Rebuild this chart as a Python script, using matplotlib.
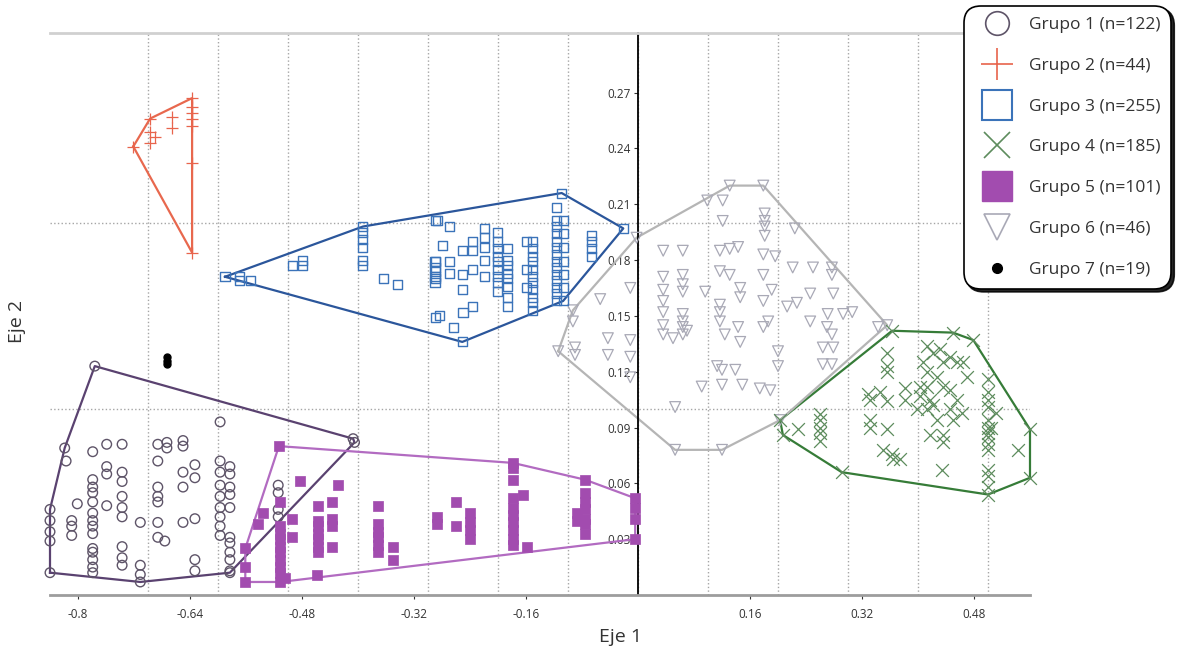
import numpy as np
import matplotlib.pyplot as plt
from matplotlib.lines import Line2D

plt.rcParams['font.family'] = ['Open Sans', 'DejaVu Sans']

# --- datos (Eje 1, Eje 2) ---
labels = ['Grupo 1 (n=122)', 'Grupo 2 (n=44)', 'Grupo 3 (n=255)', 'Grupo 4 (n=185)',
          'Grupo 5 (n=101)', 'Grupo 6 (n=46)', 'Grupo 7 (n=19)']

x_ticks = [-0.8, -0.64, -0.48, -0.32, -0.16, 0.16, 0.32, 0.48]
x_tick_labels = ['-0.8', '-0.64', '-0.48', '-0.32', '-0.16', '0.16', '0.32', '0.48']
y_ticks = [0.03, 0.06, 0.09, 0.12, 0.15, 0.18, 0.21, 0.24, 0.27]
y_tick_labels = ['0.03', '0.06', '0.09', '0.12', '0.15', '0.18', '0.21', '0.24', '0.27']

g1_x = [-0.776, -0.819, -0.817, -0.840, -0.840, -0.840, -0.840, -0.840, -0.809, -0.809, -0.809, -0.801,
        -0.779, -0.779, -0.779, -0.779, -0.779, -0.779, -0.779, -0.779, -0.779, -0.779, -0.779, -0.779,
        -0.779, -0.779,
        -0.759, -0.737, -0.759, -0.759, -0.759,
        -0.737, -0.737, -0.737, -0.737, -0.737, -0.737, -0.737, -0.737,
        -0.711, -0.711, -0.711, -0.711,
        -0.686, -0.686, -0.686, -0.686, -0.686, -0.686, -0.686,
        -0.673, -0.673, -0.676,
        -0.650, -0.650, -0.650, -0.650, -0.650,
        -0.633, -0.633, -0.633, -0.633, -0.633,
        -0.597, -0.597, -0.597, -0.597, -0.597, -0.597, -0.597, -0.597, -0.597,
        -0.583, -0.583, -0.583, -0.583, -0.583, -0.583, -0.583, -0.583, -0.583, -0.583, -0.583,
        -0.514, -0.514, -0.514, -0.514,
        -0.405, -0.407]
g1_y = [0.123, 0.079, 0.072, 0.046, 0.040, 0.034, 0.029, 0.012, 0.040, 0.037, 0.032, 0.049,
        0.077, 0.062, 0.058, 0.055, 0.050, 0.044, 0.040, 0.037, 0.033, 0.025, 0.023, 0.019,
        0.015, 0.012,
        0.081, 0.081, 0.069, 0.065, 0.048,
        0.066, 0.061, 0.053, 0.047, 0.042, 0.026, 0.020, 0.016,
        0.039, 0.016, 0.011, 0.007,
        0.081, 0.072, 0.058, 0.053, 0.050, 0.039, 0.031,
        0.082, 0.079, 0.029,
        0.083, 0.080, 0.066, 0.058, 0.039,
        0.070, 0.063, 0.041, 0.019, 0.013,
        0.093, 0.072, 0.066, 0.059, 0.053, 0.047, 0.042, 0.037, 0.032,
        0.069, 0.065, 0.058, 0.054, 0.047, 0.031, 0.028, 0.023, 0.019, 0.013, 0.012,
        0.059, 0.055, 0.046, 0.042,
        0.082, 0.084]

g2_x = [-0.721, -0.697, -0.697, -0.697, -0.690, -0.666, -0.666,
        -0.637, -0.637, -0.637, -0.637, -0.637, -0.637, -0.637]
g2_y = [0.241, 0.256, 0.249, 0.243, 0.246, 0.257, 0.251,
        0.267, 0.262, 0.259, 0.256, 0.252, 0.232, 0.184]

g3_x = [-0.590, -0.569, -0.569, -0.554, -0.493, -0.479, -0.479,
        -0.393, -0.393, -0.393, -0.393, -0.393, -0.393, -0.364, -0.344,
        -0.289, -0.289, -0.289, -0.289, -0.289, -0.286, -0.269, -0.279,
        -0.290, -0.290, -0.290, -0.290, -0.269, -0.269,
        -0.251, -0.251, -0.251, -0.236, -0.236, -0.236,
        -0.219, -0.219, -0.219, -0.219, -0.219,
        -0.201, -0.201, -0.201, -0.201, -0.201, -0.201, -0.201, -0.201, -0.201,
        -0.187, -0.187, -0.187, -0.187, -0.187, -0.187, -0.187, -0.187,
        -0.283, -0.264, -0.251, -0.250, -0.236,
        -0.151, -0.151, -0.151, -0.151, -0.151, -0.151, -0.151, -0.151, -0.151, -0.151, -0.151,
        -0.159, -0.159, -0.159,
        -0.116, -0.116, -0.116, -0.116, -0.116, -0.116, -0.116, -0.116, -0.116, -0.116, -0.116,
        -0.116, -0.116, -0.116,
        -0.107, -0.107, -0.107, -0.107, -0.107, -0.107, -0.107,
        -0.109, -0.066, -0.066, -0.066, -0.066, -0.021]
g3_y = [0.171, 0.171, 0.169, 0.169, 0.177, 0.180, 0.177,
        0.198, 0.195, 0.191, 0.187, 0.180, 0.177, 0.170, 0.167,
        0.201, 0.179, 0.174, 0.170, 0.149, 0.201, 0.198, 0.188,
        0.179, 0.176, 0.171, 0.168, 0.179, 0.173,
        0.185, 0.172, 0.164, 0.190, 0.185, 0.175,
        0.197, 0.192, 0.187, 0.180, 0.171,
        0.195, 0.190, 0.186, 0.182, 0.179, 0.175, 0.171, 0.168, 0.163,
        0.186, 0.180, 0.177, 0.173, 0.170, 0.166, 0.160, 0.155,
        0.150, 0.144, 0.136, 0.152, 0.155,
        0.190, 0.186, 0.182, 0.179, 0.175, 0.171, 0.168, 0.164, 0.160, 0.157, 0.153,
        0.190, 0.175, 0.165,
        0.208, 0.201, 0.198, 0.194, 0.190, 0.187, 0.183, 0.179, 0.176, 0.172, 0.169,
        0.165, 0.162, 0.158,
        0.201, 0.194, 0.187, 0.179, 0.172, 0.165, 0.158,
        0.216, 0.193, 0.190, 0.186, 0.182, 0.197]

g4_x = [0.203, 0.207, 0.229, 0.260, 0.260, 0.260, 0.260, 0.260, 0.291,
        0.329, 0.331, 0.331, 0.331, 0.356, 0.356, 0.356, 0.356, 0.356,
        0.350, 0.363, 0.374, 0.364, 0.346, 0.381, 0.381,
        0.413, 0.421, 0.431, 0.407, 0.403, 0.403, 0.399, 0.413, 0.417, 0.413,
        0.427, 0.436, 0.446, 0.456, 0.464, 0.470,
        0.436, 0.446, 0.456, 0.446, 0.463, 0.450, 0.421, 0.427, 0.413,
        0.417, 0.436, 0.436, 0.434,
        0.500, 0.500, 0.500, 0.500, 0.500, 0.500, 0.500, 0.500, 0.500, 0.500, 0.500, 0.500,
        0.500, 0.500,
        0.511, 0.504, 0.543, 0.363, 0.450, 0.479, 0.560, 0.560]
g4_y = [0.094, 0.086, 0.089, 0.097, 0.094, 0.090, 0.087, 0.083, 0.066,
        0.108, 0.105, 0.094, 0.090, 0.130, 0.123, 0.120, 0.104, 0.089,
        0.078, 0.076, 0.073, 0.073, 0.109, 0.111, 0.105,
        0.134, 0.130, 0.132, 0.125, 0.112, 0.107, 0.100, 0.112, 0.105, 0.120,
        0.117, 0.125, 0.128, 0.125, 0.125, 0.117,
        0.112, 0.110, 0.105, 0.100, 0.098, 0.094, 0.102, 0.094, 0.100,
        0.086, 0.086, 0.082, 0.067,
        0.116, 0.109, 0.105, 0.101, 0.094, 0.090, 0.087, 0.085, 0.081, 0.078, 0.067, 0.064,
        0.058, 0.054,
        0.098, 0.090, 0.078, 0.142, 0.141, 0.137, 0.089, 0.063]

g5_x = [-0.513, -0.483, -0.429, -0.457, -0.437,
        -0.457, -0.457, -0.457, -0.457, -0.457, -0.457,
        -0.437, -0.437, -0.437, -0.459,
        -0.511, -0.511, -0.511, -0.511, -0.511, -0.511, -0.511, -0.511, -0.511, -0.511,
        -0.494, -0.494, -0.536, -0.543, -0.561, -0.561, -0.561, -0.504,
        -0.371, -0.371, -0.371, -0.371, -0.371, -0.371, -0.350, -0.350,
        -0.287, -0.287, -0.260, -0.260, -0.240, -0.240, -0.240, -0.240,
        -0.179, -0.179, -0.179, -0.179, -0.179, -0.179, -0.179, -0.179, -0.179, -0.179,
        -0.164, -0.159,
        -0.076, -0.076, -0.076, -0.076, -0.076, -0.076, -0.076, -0.087, -0.087,
        -0.004, -0.004, -0.004, -0.004]
g5_y = [0.080, 0.061, 0.059, 0.048, 0.050,
        0.040, 0.037, 0.033, 0.030, 0.026, 0.023,
        0.041, 0.037, 0.026, 0.011,
        0.050, 0.037, 0.033, 0.030, 0.026, 0.023, 0.019, 0.015, 0.012, 0.007,
        0.041, 0.031, 0.044, 0.038, 0.025, 0.015, 0.007, 0.009,
        0.048, 0.038, 0.034, 0.031, 0.027, 0.023, 0.026, 0.019,
        0.042, 0.038, 0.050, 0.037, 0.044, 0.039, 0.035, 0.030,
        0.071, 0.068, 0.062, 0.052, 0.047, 0.043, 0.039, 0.035, 0.030, 0.027,
        0.054, 0.026,
        0.062, 0.055, 0.050, 0.046, 0.041, 0.038, 0.033, 0.044, 0.040,
        0.052, 0.047, 0.041, 0.030]

g6_x = [-0.114, -0.093, -0.093, -0.090, -0.090, -0.054, -0.043, -0.043,
        -0.011, -0.011, -0.011, -0.011, -0.002,
        0.036, 0.036, 0.036, 0.036, 0.036, 0.036, 0.036,
        0.064, 0.064, 0.064, 0.064, 0.064, 0.064, 0.064, 0.064,
        0.050, 0.070, 0.096, 0.053, 0.053,
        0.099, 0.121, 0.121, 0.117, 0.131, 0.143,
        0.117, 0.117, 0.117, 0.117, 0.131, 0.146, 0.146,
        0.124, 0.143, 0.146, 0.113, 0.120, 0.139, 0.091, 0.120, 0.149, 0.174, 0.189,
        0.131, 0.179, 0.181, 0.181, 0.181, 0.181, 0.179, 0.196,
        0.179, 0.179, 0.191, 0.179, 0.186, 0.200, 0.200,
        0.221, 0.250, 0.213, 0.227, 0.224, 0.246, 0.246,
        0.277, 0.277, 0.279, 0.271, 0.270, 0.277, 0.264, 0.279, 0.264, 0.277,
        0.293, 0.306, 0.343, 0.356, 0.203, 0.120]
g6_y = [0.131, 0.153, 0.147, 0.133, 0.129, 0.159, 0.138, 0.129,
        0.165, 0.137, 0.128, 0.117, 0.192,
        0.185, 0.171, 0.164, 0.158, 0.152, 0.145, 0.140,
        0.185, 0.172, 0.167, 0.163, 0.151, 0.147, 0.144, 0.140,
        0.138, 0.142, 0.163, 0.101, 0.078,
        0.212, 0.212, 0.201, 0.185, 0.186, 0.187,
        0.174, 0.156, 0.152, 0.147, 0.172, 0.165, 0.160,
        0.140, 0.144, 0.136, 0.123, 0.121, 0.121, 0.112, 0.113, 0.113, 0.111, 0.110,
        0.220, 0.220, 0.205, 0.201, 0.198, 0.193, 0.183, 0.182,
        0.172, 0.158, 0.164, 0.144, 0.147, 0.131, 0.123,
        0.176, 0.176, 0.155, 0.157, 0.197, 0.162, 0.147,
        0.176, 0.172, 0.162, 0.151, 0.144, 0.140, 0.133, 0.133, 0.124, 0.124,
        0.151, 0.152, 0.144, 0.145, 0.094, 0.078]

g7_x = [-0.673, -0.673, -0.673]
g7_y = [0.128, 0.126, 0.124]

# estilos
colores_marca = ['#5e5468', '#e8644c', '#3b73b9', '#5d8c5d', '#a24caf', '#a9a9b6', '#000000']
colores_casco = ['#5a4270', '#e8684e', '#2b569b', '#367c38', '#b26bc1', '#b5b5b5']


def convex_hull(xs, ys):
    # cadena monotona
    pts = sorted(set(zip(xs, ys)))
    def cross(o, a, b):
        return (a[0] - o[0]) * (b[1] - o[1]) - (a[1] - o[1]) * (b[0] - o[0])
    lower = []
    for p in pts:
        while len(lower) >= 2 and cross(lower[-2], lower[-1], p) <= 0:
            lower.pop()
        lower.append(p)
    upper = []
    for p in reversed(pts):
        while len(upper) >= 2 and cross(upper[-2], upper[-1], p) <= 0:
            upper.pop()
        upper.append(p)
    h = lower[:-1] + upper[:-1]
    h.append(h[0])
    return np.array(h)


fig = plt.figure(figsize=(11.81, 6.56), dpi=100)
ax = fig.add_axes([50 / 1181, 1 - 595 / 656, 980 / 1181, 562 / 656])

grupos = [(g1_x, g1_y), (g2_x, g2_y), (g3_x, g3_y), (g4_x, g4_y), (g5_x, g5_y), (g6_x, g6_y)]
for i, (gx, gy) in enumerate(grupos):
    h = convex_hull(gx, gy)
    ax.plot(h[:, 0], h[:, 1], color=colores_casco[i], lw=1.6, zorder=2, clip_on=False)

kw = dict(zorder=3, clip_on=False)
ax.scatter(g6_x, g6_y, marker='v', s=60, facecolors='none', edgecolors=colores_marca[5], linewidths=0.9, **kw)
ax.scatter(g4_x, g4_y, marker='x', s=85, color=colores_marca[3], linewidths=0.9, **kw)
ax.scatter(g1_x, g1_y, marker='o', s=48, facecolors='none', edgecolors=colores_marca[0], linewidths=1.0, **kw)
ax.scatter(g5_x, g5_y, marker='s', s=42, color=colores_marca[4], linewidths=0.5, **kw)
ax.scatter(g3_x, g3_y, marker='s', s=42, facecolors='none', edgecolors=colores_marca[2], linewidths=1.0, **kw)
ax.scatter(g2_x, g2_y, marker='+', s=70, color=colores_marca[1], linewidths=0.9, **kw)
ax.scatter(g7_x, g7_y, marker='o', s=25, color=colores_marca[6], **kw)

ax.set_xlim(-0.84, 0.56)
ax.set_ylim(0, 0.302)

# ejes: el vertical pasa por x = 0
ax.spines['right'].set_visible(False)
ax.spines['top'].set_color('#d0d0d0')
ax.spines['top'].set_linewidth(2)
ax.spines['left'].set_position(('data', 0))
ax.spines['left'].set_color('black')
ax.spines['left'].set_linewidth(1.3)
ax.spines['bottom'].set_color('#9d9d9d')
ax.spines['bottom'].set_linewidth(2)

ax.set_xticks(x_ticks)
ax.set_xticklabels(x_tick_labels)
ax.set_yticks(y_ticks)
ax.set_yticklabels(y_tick_labels)
ax.set_xticks(np.arange(-0.7, 0.51, 0.1), minor=True)
ax.set_yticks([0.1, 0.2], minor=True)
ax.grid(which='minor', ls=':', color='#a5a5a5', lw=1.0)
ax.tick_params(which='minor', length=0)
ax.tick_params(which='major', length=3, labelsize=8.5, colors='#333333', pad=2)
ax.tick_params(axis='x', which='major', pad=6)
ax.set_axisbelow(True)

ax.set_xlabel('Eje 1', fontsize=14, color='#333333')
ax.xaxis.set_label_coords(0.582, -0.058)
ax.set_ylabel('Eje 2', fontsize=14, color='#333333')
ax.yaxis.set_label_coords(-0.024, 0.486)

# leyenda
handles = [
    Line2D([], [], ls='none', marker='o', ms=17, mfc='none', mec=colores_marca[0], mew=1.2),
    Line2D([], [], ls='none', marker='+', ms=23, color=colores_marca[1], mew=1.2),
    Line2D([], [], ls='none', marker='s', ms=22, mfc='none', mec=colores_marca[2], mew=1.5),
    Line2D([], [], ls='none', marker='x', ms=19, color=colores_marca[3], mew=1.2),
    Line2D([], [], ls='none', marker='s', ms=22, color=colores_marca[4]),
    Line2D([], [], ls='none', marker='v', ms=19, mfc='none', mec=colores_marca[5], mew=1.2),
    Line2D([], [], ls='none', marker='o', ms=7, color='black'),
]
leg = fig.legend(handles, labels, loc='upper right', bbox_to_anchor=(1168 / 1181, 1 - 9 / 656),
                 fontsize=12.5, frameon=True, fancybox=True, shadow={'color': 'black', 'alpha': 0.85},
                 labelspacing=1.42, handlelength=2.6, handletextpad=0.5, borderpad=0.45,
                 borderaxespad=0, numpoints=1)
leg.get_frame().set_edgecolor('black')
leg.get_frame().set_linewidth(1.2)
leg.get_frame().set_boxstyle('round,pad=0.2,rounding_size=1.0')
for t in leg.get_texts():
    t.set_color('#333333')

fig.savefig('out.png', dpi=100)
